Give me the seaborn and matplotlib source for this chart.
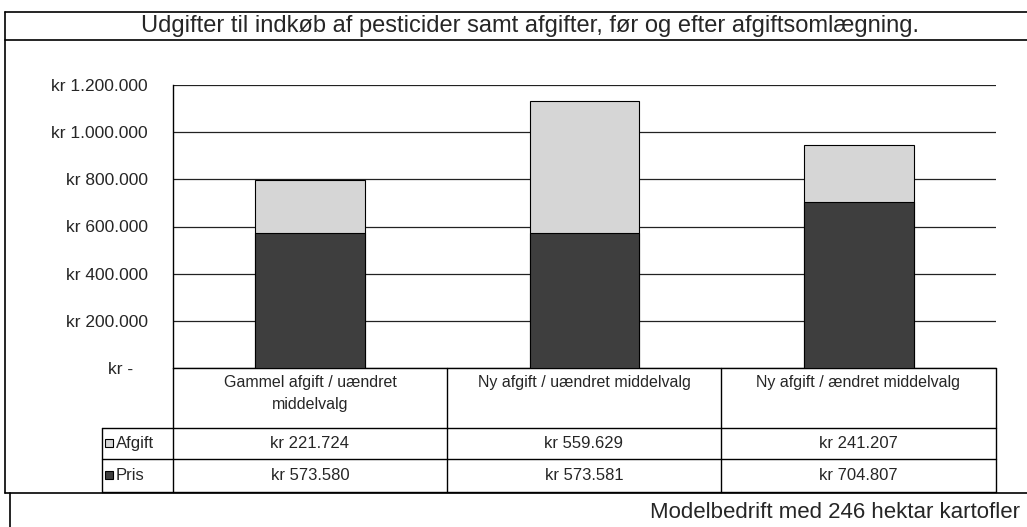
import pandas as pd
import seaborn as sns
from matplotlib import pyplot as plt
from matplotlib.patches import Rectangle

CATEGORIES = ["Gammel afgift / uændret\nmiddelvalg",
              "Ny afgift / uændret middelvalg",
              "Ny afgift / ændret middelvalg"]
PRIS = [573580, 573581, 704807]
AFGIFT = [221724, 559629, 241207]
YTICKS = [0, 200000, 400000, 600000, 800000, 1000000, 1200000]

TITLE = "Udgifter til indkøb af pesticider samt afgifter, før og efter afgiftsomlægning."
FOOTER = "Modelbedrift med 246 hektar kartofler"

DARK = "#3e3e3e"
LIGHT = "#d6d6d6"


def kr(v):
    if v == 0:
        return "kr -   "
    return "kr " + f"{v:,}".replace(",", ".")


W, H = 1027, 527
sns.set_style("white")
plt.rcParams['font.family'] = ['Liberation Sans', 'DejaVu Sans']

df = pd.DataFrame({"kategori": CATEGORIES, "Pris": PRIS, "Afgift": AFGIFT})
df["total"] = df["Pris"] + df["Afgift"]

fig = plt.figure(figsize=(W / 100, H / 100), dpi=100)

# overlay in pixel coordinates for frames and the data table
ov = fig.add_axes([0, 0, 1, 1])
ov.set_xlim(0, W)
ov.set_ylim(H, 0)
ov.axis("off")

# main plot area
left, right, top, bottom = 173, 996, 85, 368
ax = fig.add_axes([left / W, 1 - bottom / H, (right - left) / W, (bottom - top) / H])
ax.set_facecolor("none")

sns.barplot(data=df, x="kategori", y="total", color=LIGHT, width=0.4,
            edgecolor="black", linewidth=0.8, saturation=1, ax=ax, zorder=3)
sns.barplot(data=df, x="kategori", y="Pris", color=DARK, width=0.4,
            edgecolor="black", linewidth=0.8, saturation=1, ax=ax, zorder=4)

ax.set_ylim(0, 1200000)
ax.set_xlim(-0.5, 2.5)
ax.set_yticks(YTICKS)
ax.set_yticklabels([kr(v) for v in YTICKS], fontsize=12.5)
ax.set_xticks([])
ax.set_xlabel("")
ax.set_ylabel("")
for v in YTICKS:
    ax.axhline(v, color="#222222", linewidth=0.9, zorder=1)
for s in ["top", "right", "bottom"]:
    ax.spines[s].set_visible(False)
ax.spines["left"].set_color("black")
ax.spines["left"].set_linewidth(1)
ax.tick_params(axis="y", length=4, width=0.8, color="black", pad=14)

# outer frames
lw = 1.2
ov.plot([5, W], [12, 12], color="black", lw=lw)
ov.plot([5, W], [40, 40], color="black", lw=lw)
ov.plot([5, 5], [12, 493], color="black", lw=lw)
ov.plot([5, W], [493, 493], color="black", lw=lw)
ov.plot([10, 10], [493, H], color="black", lw=lw)
ov.text(530, 26, TITLE, ha="center", va="center", fontsize=17)
ov.text(1020, 512, FOOTER, ha="right", va="center", fontsize=16)

# data table
cols = [173, 447, 721, 996]
r0, r1, r2, r3 = 368, 428, 459, 492
tl = 1.0
for x in cols:
    ov.plot([x, x], [r0, r3], color="black", lw=tl)
ov.plot([102, 102], [r1, r3], color="black", lw=tl)
ov.plot([173, 996], [r0, r0], color="black", lw=tl)
ov.plot([102, 996], [r1, r1], color="black", lw=tl)
ov.plot([102, 996], [r2, r2], color="black", lw=tl)
ov.plot([102, 996], [r3, r3], color="black", lw=tl)

for i, cat in enumerate(CATEGORIES):
    cx = (cols[i] + cols[i + 1]) / 2
    ov.text(cx, 375, cat, ha="center", va="top", fontsize=11.5, linespacing=1.6)
    ov.text(cx, (r1 + r2) / 2, kr(AFGIFT[i]), ha="center", va="center", fontsize=12)
    ov.text(cx, (r2 + r3) / 2, kr(PRIS[i]), ha="center", va="center", fontsize=12)

ov.add_patch(Rectangle((105, 439), 8, 8, facecolor=LIGHT, edgecolor="black", lw=0.8))
ov.add_patch(Rectangle((105, 471), 8, 8, facecolor=DARK, edgecolor="black", lw=0.8))
ov.text(116, (r1 + r2) / 2, "Afgift", ha="left", va="center", fontsize=12)
ov.text(116, (r2 + r3) / 2, "Pris", ha="left", va="center", fontsize=12)

fig.savefig("out.png", dpi=100)
